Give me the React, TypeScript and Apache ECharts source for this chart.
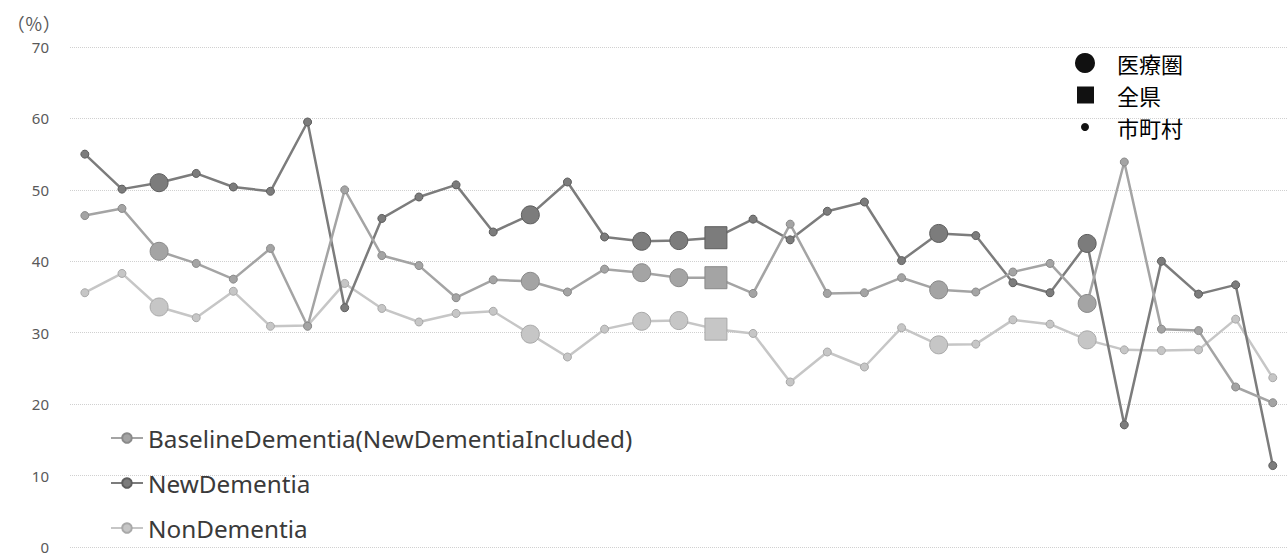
import { useEffect, useRef } from "react";
import * as echarts from "echarts";

const seriesNames = ["BaselineDementia(NewDementiaIncluded)", "NewDementia", "NonDementia"];

const baselineDementia = [
  46.4, 47.4, 41.4, 39.7, 37.5, 41.8, 30.9, 50.0, 40.8, 39.4, 34.9,
  37.4, 37.2, 35.7, 38.9, 38.4, 37.7, 37.7, 35.5, 45.2, 35.5, 35.6,
  37.7, 36.0, 35.7, 38.5, 39.7, 34.1, 53.9, 30.5, 30.3, 22.4, 20.2,
];
const newDementia = [
  55.0, 50.1, 51.0, 52.3, 50.4, 49.8, 59.5, 33.5, 46.0, 49.0, 50.7,
  44.1, 46.5, 51.1, 43.4, 42.8, 42.9, 43.3, 45.9, 43.0, 47.0, 48.3,
  40.1, 43.9, 43.6, 37.0, 35.6, 42.5, 17.1, 40.0, 35.4, 36.7, 11.4,
];
const nonDementia = [
  35.6, 38.3, 33.6, 32.1, 35.8, 30.9, 31.0, 36.9, 33.4, 31.5, 32.7,
  33.0, 29.8, 26.6, 30.5, 31.6, 31.7, 30.5, 29.9, 23.1, 27.3, 25.2,
  30.7, 28.3, 28.4, 31.8, 31.2, 29.0, 27.6, 27.5, 27.6, 31.9, 23.7,
];

// point kinds: 医療圏 (large circle), 全県 (square); others are 市町村
const areaIndices = [2, 12, 15, 16, 23, 27];
const prefIndices = [17];
const markerKeyLabels = ["医療圏", "全県", "市町村"];

const yMin = 0;
const yMax = 70;
const yInterval = 10;
const yUnit = "（％）";

const colors = ["#a4a4a4", "#7c7c7c", "#c6c6c6"];
const borders = ["#8a8a8a", "#5e5e5e", "#a9a9a9"];

function buildData(vals: number[]) {
  return vals.map((v, i) => {
    if (prefIndices.includes(i)) return { value: [i, v], symbol: "rect", symbolSize: 22 };
    if (areaIndices.includes(i)) return { value: [i, v], symbol: "circle", symbolSize: 18 };
    return { value: [i, v] };
  });
}

export default function App() {
  const ref = useRef<HTMLDivElement>(null);
  useEffect(() => {
    document.body.style.margin = "0";
    if (!ref.current) return;
    const chart = echarts.init(ref.current, null, { renderer: "svg" });
    const all = [baselineDementia, newDementia, nonDementia];
    const n = baselineDementia.length;
    const keyTop = 63;
    const keyStep = 32;
    chart.setOption({
      animation: false,
      backgroundColor: "#ffffff",
      grid: { left: 70, right: 0, top: 47, bottom: 9, containLabel: false },
      xAxis: {
        type: "value",
        min: -0.4,
        max: n - 1 + 0.41,
        show: false,
        splitLine: { show: false },
      },
      yAxis: {
        type: "value",
        min: yMin,
        max: yMax,
        interval: yInterval,
        name: yUnit,
        nameLocation: "end",
        nameGap: 24,
        nameTextStyle: {
          align: "right",
          verticalAlign: "middle",
          padding: [0, 24, 0, 0],
          fontSize: 18,
          lineHeight: 20,
          color: "#595959",
          fontFamily: "Noto Sans CJK JP",
        },
        axisLine: { show: false },
        axisTick: { show: false },
        axisLabel: {
          margin: 21,
          fontSize: 15,
          lineHeight: 12,
          color: "#595959",
          fontFamily: "Noto Sans",
        },
        splitLine: { show: true, lineStyle: { type: "dotted", color: "#d0d0d0", width: 1 } },
      },
      legend: {
        orient: "vertical",
        left: 110,
        top: 423,
        padding: 0,
        itemWidth: 32,
        itemHeight: 12,
        itemGap: 15,
        data: seriesNames,
        textStyle: { fontSize: 24.3, lineHeight: 30, color: "#3a3a3a", fontFamily: "Noto Sans" },
      },
      series: all.map((vals, k) => ({
        name: seriesNames[k],
        type: "line",
        data: buildData(vals),
        symbol: "circle",
        symbolSize: 8,
        showSymbol: true,
        lineStyle: { color: colors[k], width: 2.5 },
        itemStyle: { color: colors[k], borderColor: borders[k], borderWidth: 1 },
        z: 3 - k,
      })),
      graphic: [
        { type: "circle", shape: { cx: 1085, cy: keyTop, r: 10 }, style: { fill: "#111111" } },
        { type: "rect", shape: { x: 1077, y: keyTop + keyStep - 8.5, width: 17, height: 17 }, style: { fill: "#111111" } },
        { type: "circle", shape: { cx: 1085, cy: keyTop + 2 * keyStep, r: 4 }, style: { fill: "#111111" } },
        ...markerKeyLabels.map((t, i) => ({
          type: "text",
          x: 1117,
          y: keyTop + i * keyStep,
          style: {
            text: t,
            fontSize: 22,
            fontFamily: "Noto Sans CJK JP",
            fill: "#000000",
            verticalAlign: "middle",
          },
        })),
      ],
    });
    return () => chart.dispose();
  }, []);
  return <div ref={ref} style={{ width: 1288, height: 556 }} />;
}
